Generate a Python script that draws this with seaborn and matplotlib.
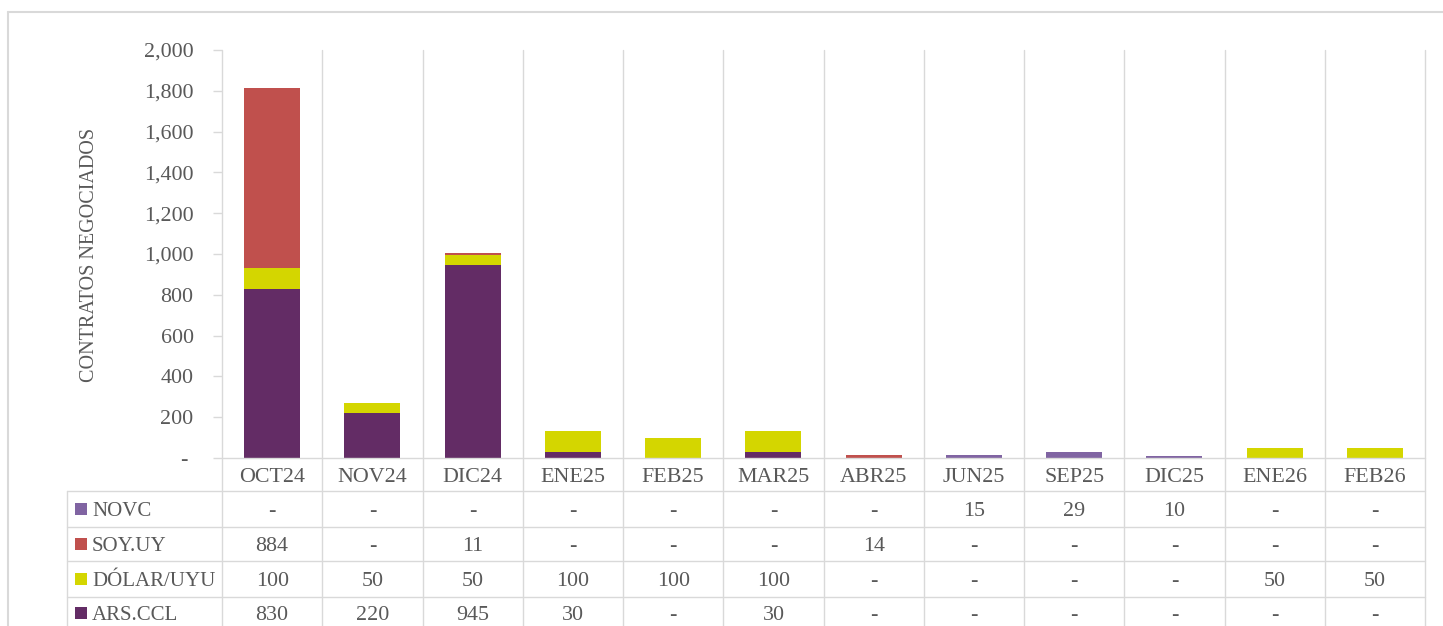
import matplotlib
matplotlib.use("Agg")
import matplotlib.pyplot as plt
import matplotlib.transforms as mtransforms
from matplotlib.lines import Line2D
from matplotlib.patches import Rectangle
import seaborn as sns
import numpy as np

# ─── Data ────────────────────────────────────────────────────────────────────
months = ["OCT24", "NOV24", "DIC24", "ENE25", "FEB25", "MAR25",
          "ABR25", "JUN25", "SEP25", "DIC25", "ENE26", "FEB26"]
ars_ccl   = [830, 220, 945, 30, 0, 30, 0, 0, 0, 0, 0, 0]
dolar_uyu = [100, 50, 50, 100, 100, 100, 0, 0, 0, 0, 50, 50]
soy_uy    = [884, 0, 11, 0, 0, 0, 14, 0, 0, 0, 0, 0]
novc      = [0, 0, 0, 0, 0, 0, 0, 15, 29, 10, 0, 0]

# stack order, bottom to top
series = ["ARS.CCL", "DÓLAR/UYU", "SOY.UY", "NOVC"]
values = {"ARS.CCL": ars_ccl, "DÓLAR/UYU": dolar_uyu, "SOY.UY": soy_uy, "NOVC": novc}
colors = {"ARS.CCL": "#632C65", "DÓLAR/UYU": "#D4D600",
          "SOY.UY": "#C0504D", "NOVC": "#8064A2"}

GRID = "#D9D9D9"
TXT = "#595959"
FS = 15.8

sns.set_theme(style="white")
plt.rcParams["font.family"] = ["Liberation Serif", "DejaVu Serif"]

W, H = 1443, 626
fig = plt.figure(figsize=(W / 100, H / 100), dpi=100)
fig.patch.set_facecolor("white")


def fx(px):
    return px / W


def fy(py):
    return 1 - py / H


ax = fig.add_axes([fx(222), fy(458), fx(1425) - fx(222), fy(50) - fy(458)])

# ─── Stacked bars (layered cumulative totals) ────────────────────────────────
cum = np.zeros(len(months))
tops = {}
for s in series:
    cum = cum + np.array(values[s])
    tops[s] = cum.copy()

for s in reversed(series):
    sns.barplot(x=months, y=tops[s], order=months, color=colors[s],
                saturation=1, width=0.56, linewidth=0, errorbar=None, ax=ax)

ax.set_xlim(-0.5, len(months) - 0.5)
ax.set_ylim(0, 2000)
yt = np.arange(0, 2001, 200)
ax.set_yticks(yt)
ax.set_yticklabels(["- " if v == 0 else f"{v:,}" for v in yt])
ax.tick_params(axis="y", length=6.5, width=1, color=GRID, pad=14,
               labelsize=FS, labelcolor=TXT, left=True)
ax.tick_params(axis="x", length=0, labelbottom=False)
ax.set_xlabel("")
ax.set_ylabel("")
for sp in ax.spines.values():
    sp.set_visible(False)
ax.grid(False)

fig.text(fx(90), fy(255), "CONTRATOS NEGOCIADOS", rotation=90,
         ha="center", va="center", color=TXT, fontsize=14.5)

# ─── Grid lines / data table ─────────────────────────────────────────────────
tr = mtransforms.blended_transform_factory(ax.transData, fig.transFigure)
for b in np.arange(-0.5, len(months), 1.0):
    fig.add_artist(Line2D([b, b], [fy(50), 0], transform=tr, color=GRID, lw=1))

fig.add_artist(Line2D([fx(222), fx(1425)], [fy(458), fy(458)],
                      transform=fig.transFigure, color=GRID, lw=1))
for yl in [491, 527, 561, 597]:
    fig.add_artist(Line2D([fx(67), fx(1425)], [fy(yl), fy(yl)],
                          transform=fig.transFigure, color=GRID, lw=1))
fig.add_artist(Line2D([fx(67), fx(67)], [fy(491), 0],
                      transform=fig.transFigure, color=GRID, lw=1))

# outer frame
fig.add_artist(Line2D([fx(8), 1], [fy(12), fy(12)],
                      transform=fig.transFigure, color=GRID, lw=1.5))
fig.add_artist(Line2D([fx(8), fx(8)], [fy(12), 0],
                      transform=fig.transFigure, color=GRID, lw=1.5))

for i, m in enumerate(months):
    fig.text(i, fy(475), m, transform=tr, ha="center", va="center_baseline",
             fontsize=FS, color=TXT)

row_y = {"NOVC": 509, "SOY.UY": 544, "DÓLAR/UYU": 579, "ARS.CCL": 613}
for s in ["NOVC", "SOY.UY", "DÓLAR/UYU", "ARS.CCL"]:
    y = row_y[s]
    fig.add_artist(Rectangle((fx(75), fy(y + 6)), fx(12), 12 / H,
                             transform=fig.transFigure, color=colors[s], lw=0))
    fig.text(fx(92), fy(y), s, ha="left", va="center_baseline",
             fontsize=15, color=TXT)
    for i, v in enumerate(values[s]):
        fig.text(i, fy(y), "-" if v == 0 else f"{v:,}", transform=tr,
                 ha="center", va="center_baseline", fontsize=FS, color=TXT)

fig.savefig("out.png", dpi=100, facecolor="white")
